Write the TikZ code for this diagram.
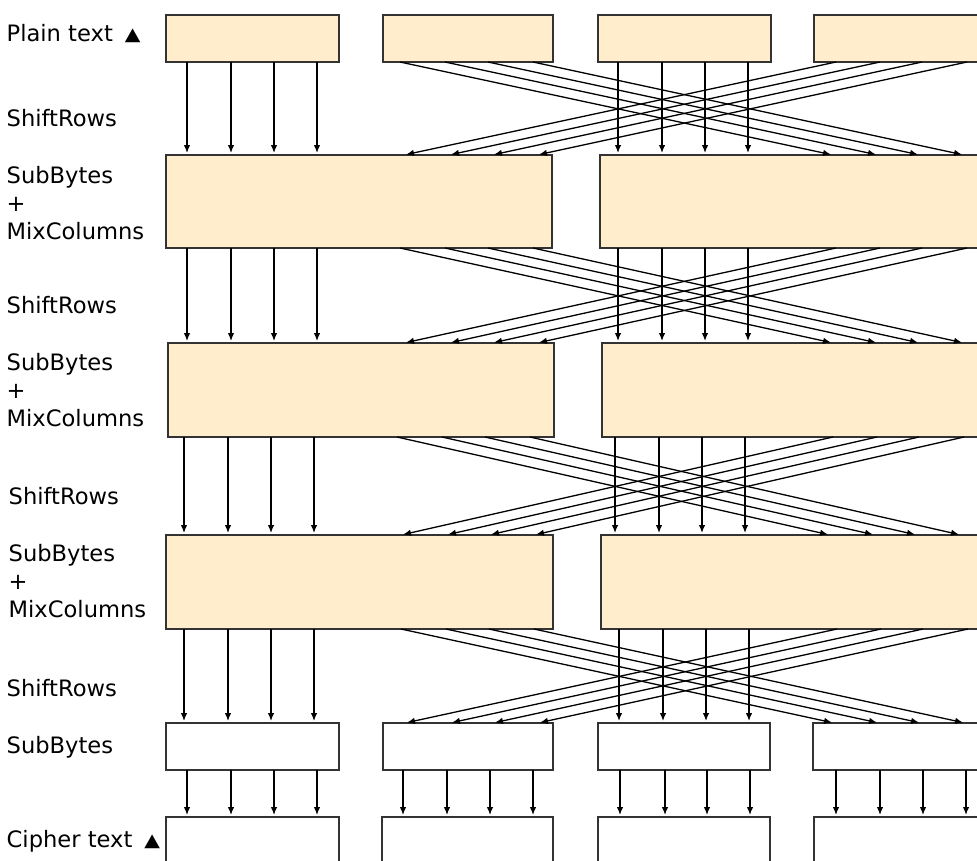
\documentclass[tikz,border=0pt]{standalone}
\usepackage{fontspec}
\setmainfont{DejaVu Sans}
\usetikzlibrary{arrows.meta}
\definecolor{boxfill}{RGB}{255,237,204}
\definecolor{boxline}{RGB}{51,51,51}
\newcommand{\uptri}{\hspace{12pt}\raisebox{0.5pt}{\scalebox{0.9}[0.8]{▲}}}
\begin{document}
\begin{tikzpicture}[x=1pt,y=-1pt,
  obox/.style={draw=boxline, line width=1.4pt, fill=boxfill, outer sep=0pt, inner sep=0pt, anchor=north west},
  wbox/.style={obox, fill=white},
  arr/.style={draw=black, line width=1.3pt, -{Latex[length=8pt,width=6.5pt]}, shorten >=2pt},
  lbl/.style={anchor=base west, inner sep=0pt, font=\fontsize{22.6}{28}\selectfont}]
\useasboundingbox (0,0) rectangle (977,860);
\clip (0,0) rectangle (977,860);
% row 1 : plain text
\node[obox, minimum width=173pt, minimum height=47pt] (c1r1) at (166,15) {};
\node[obox, minimum width=170pt, minimum height=47pt] (c2r1) at (383,15) {};
\node[obox, minimum width=173pt, minimum height=47pt] (c3r1) at (598,15) {};
\node[obox, minimum width=200pt, minimum height=47pt] (c4r1) at (814,15) {};
% row 2
\node[obox, alias=c2r2, minimum width=386pt, minimum height=93pt] (c1r2) at (166,155) {};
\node[obox, alias=c4r2, minimum width=420pt, minimum height=93pt] (c3r2) at (600,155) {};
% row 3
\node[obox, alias=c2r3, minimum width=386pt, minimum height=94pt] (c1r3) at (168,343) {};
\node[obox, alias=c4r3, minimum width=420pt, minimum height=94pt] (c3r3) at (602,343) {};
% row 4
\node[obox, alias=c2r4, minimum width=387pt, minimum height=94pt] (c1r4) at (166,535) {};
\node[obox, alias=c4r4, minimum width=420pt, minimum height=94pt] (c3r4) at (601,535) {};
% row 5 : SubBytes
\node[wbox, minimum width=173pt, minimum height=47pt] (c1r5) at (166,723) {};
\node[wbox, minimum width=170pt, minimum height=47pt] (c2r5) at (383,723) {};
\node[wbox, minimum width=172pt, minimum height=47pt] (c3r5) at (598,723) {};
\node[wbox, minimum width=200pt, minimum height=47pt] (c4r5) at (813,723) {};
% row 6 : cipher text
\node[wbox, minimum width=173pt, minimum height=80pt] (c1r6) at (166,817) {};
\node[wbox, minimum width=171pt, minimum height=80pt] (c2r6) at (382,817) {};
\node[wbox, minimum width=172pt, minimum height=80pt] (c3r6) at (598,817) {};
\node[wbox, minimum width=200pt, minimum height=80pt] (c4r6) at (814,817) {};
% ShiftRows connectors
\foreach \r/\s/\dl/\dr in {1/2/0/0, 2/3/0/0, 3/4/-3/-3, 4/5/-3/1}{
  \foreach \xa/\xbs/\xbt/\xc/\xds/\xdt in {187/400/404/618/836/833, 231/445/449/662/880/878, 274/488/492/705/922/920, 317/533/537/748/967/964}{
    \coordinate (pa) at ({\xa+(\dl)},0);
    \coordinate (pbs) at ({\xbs+(\dr)},0);
    \coordinate (pbt) at ({\xbt+(\dr)},0);
    \coordinate (pc) at ({\xc+(\dr)},0);
    \coordinate (pds) at ({\xds+(\dr)},0);
    \coordinate (pdt) at ({\xdt+(\dr)},0);
    \draw[arr] (pa |- c1r\r.south) -- (pa |- c1r\s.north);
    \draw[arr] (pbs |- c2r\r.south) -- (pdt |- c4r\s.north);
    \draw[arr] (pc |- c3r\r.south) -- (pc |- c3r\s.north);
    \draw[arr] (pds |- c4r\r.south) -- (pbt |- c2r\s.north);
  }
}
% final SubBytes -> cipher text
\foreach \xa/\xb/\xc/\xd in {187/403/620/836, 231/447/665/880, 274/490/707/923, 317/533/750/966}{
  \coordinate (qa) at (\xa,0);
  \coordinate (qb) at (\xb,0);
  \coordinate (qc) at (\xc,0);
  \coordinate (qd) at (\xd,0);
  \draw[arr] (qa |- c1r5.south) -- (qa |- c1r6.north);
  \draw[arr] (qb |- c2r5.south) -- (qb |- c2r6.north);
  \draw[arr] (qc |- c3r5.south) -- (qc |- c3r6.north);
  \draw[arr] (qd |- c4r5.south) -- (qd |- c4r6.north);
}
% labels
\node[lbl] (lplain) at (6.5,41) {Plain text\uptri};
\node[lbl] (lsr1) at (6.5,126) {ShiftRows};
\node[lbl] (lsb1) at (6.5,183) {SubBytes};
\node[lbl] (lpl1) at (6.5,211) {+};
\node[lbl] (lmc1) at (6.5,239) {MixColumns};
\node[lbl] (lsr2) at (6.5,313) {ShiftRows};
\node[lbl] (lsb2) at (6.5,370) {SubBytes};
\node[lbl] (lpl2) at (6.5,398) {+};
\node[lbl] (lmc2) at (6.5,426) {MixColumns};
\node[lbl] (lsr3) at (8.5,504) {ShiftRows};
\node[lbl] (lsb3) at (8.5,561) {SubBytes};
\node[lbl] (lpl3) at (8.5,589) {+};
\node[lbl] (lmc3) at (8.5,617) {MixColumns};
\node[lbl] (lsr4) at (6.5,696) {ShiftRows};
\node[lbl] (lsb4) at (6.5,753) {SubBytes};
\node[lbl] (lcipher) at (6.5,847) {Cipher text\uptri};
\end{tikzpicture}
\end{document}
